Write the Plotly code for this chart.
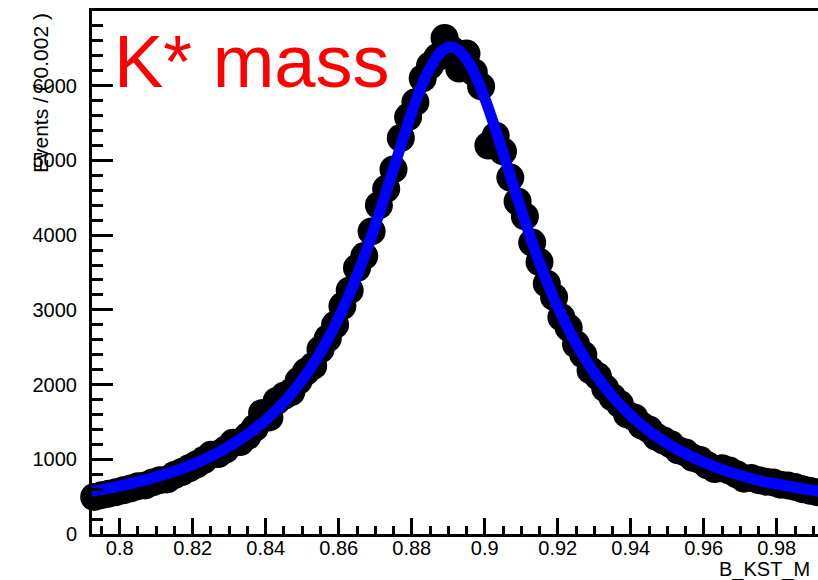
import plotly.graph_objects as go

# Binned K* candidate mass (bin width 0.002), bin centres and counts
bin_centers = [round(0.793 + 0.002 * i, 3) for i in range(100)]
events = [
    495, 520, 540, 560, 585, 610, 640, 650, 690, 720,
    730, 790, 830, 880, 930, 990, 1060, 1070, 1130, 1220,
    1230, 1310, 1420, 1620, 1560, 1780, 1850, 1900, 2050, 2170,
    2250, 2470, 2620, 2800, 3050, 3260, 3560, 3720, 4050, 4400,
    4620, 4880, 5300, 5580, 5780, 6100, 6270, 6380, 6640, 6480,
    6230, 6430, 6180, 5990, 5200, 5330, 5120, 4770, 4450, 4250,
    3900, 3640, 3350, 3170, 2900, 2760, 2540, 2400, 2190, 2110,
    1950, 1830, 1740, 1600, 1560, 1450, 1400, 1300, 1250, 1200,
    1120, 1090, 1020, 990, 920, 870, 880, 850, 800, 740,
    750, 720, 700, 690, 660, 650, 630, 600, 580, 560,
]

# Fitted line shape sampled along the mass axis
fit_x = [0.792, 0.796, 0.800, 0.804, 0.808, 0.812, 0.816, 0.820, 0.824, 0.828,
         0.832, 0.836, 0.840, 0.844, 0.848, 0.852, 0.856, 0.860, 0.864, 0.868,
         0.872, 0.876, 0.880, 0.884, 0.888, 0.890, 0.892, 0.896, 0.900, 0.904,
         0.908, 0.912, 0.916, 0.920, 0.924, 0.928, 0.932, 0.936, 0.940, 0.944,
         0.948, 0.952, 0.956, 0.960, 0.964, 0.968, 0.972, 0.976, 0.980, 0.984,
         0.988, 0.992]
fit_y = [569, 604, 643, 687, 737, 794, 858, 933, 1018, 1117,
         1232, 1367, 1525, 1712, 1936, 2201, 2517, 2893, 3336, 3850,
         4426, 5040, 5640, 6142, 6454, 6514, 6503, 6278, 5832, 5256,
         4639, 4045, 3508, 3040, 2641, 2305, 2023, 1786, 1587, 1419,
         1277, 1155, 1051, 961, 883, 815, 756, 704, 670, 632,
         598, 568]

x_tick_vals = [0.80, 0.82, 0.84, 0.86, 0.88, 0.90, 0.92, 0.94, 0.96, 0.98]
x_tick_text = ["0.8", "0.82", "0.84", "0.86", "0.88", "0.9", "0.92", "0.94", "0.96", "0.98"]
y_tick_vals = [0, 1000, 2000, 3000, 4000, 5000, 6000]

FONT = "Liberation Sans, Arial, Helvetica, sans-serif"
W, H = 818, 580
L, R, T, B = 92, 0, 11, 46
pw, ph = W - L - R, H - T - B


def px_x(p):
    return (p - L) / pw


def px_y(p):
    return (H - B - p) / ph


fig = go.Figure()
fig.add_trace(go.Scatter(
    x=bin_centers, y=events, mode="markers",
    marker=dict(symbol="circle", size=28, color="black", line=dict(width=0)),
    cliponaxis=False, showlegend=False, hoverinfo="x+y",
))
fig.add_trace(go.Scatter(
    x=fit_x, y=fit_y, mode="lines",
    line=dict(color="#0000ff", width=11, shape="spline", smoothing=1.0),
    showlegend=False, hoverinfo="skip",
))

fig.update_layout(
    width=W, height=H,
    margin=dict(l=L, r=R, t=T, b=B, pad=0),
    paper_bgcolor="white", plot_bgcolor="white",
    font=dict(family=FONT, size=20, color="black"),
    xaxis=dict(
        range=[0.7924, 0.9913], showgrid=False, zeroline=False,
        showline=True, linecolor="black", linewidth=3, mirror=True,
        ticks="inside", ticklen=16, tickwidth=3, tickcolor="black",
        tickvals=x_tick_vals, ticktext=x_tick_text,
        tickfont=dict(family=FONT, size=20, color="black"),
        ticklabelstandoff=-6,
        minor=dict(ticks="inside", dtick=0.005, tick0=0.8, ticklen=8,
                   tickwidth=3, tickcolor="black", showgrid=False),
    ),
    yaxis=dict(
        range=[0, 7000], showgrid=False, zeroline=False,
        showline=True, linecolor="black", linewidth=3, mirror=False,
        ticks="inside", ticklen=21, tickwidth=3, tickcolor="black",
        tickvals=y_tick_vals,
        tickfont=dict(family=FONT, size=20, color="black"),
        ticklabelstandoff=8,
        minor=dict(ticks="inside", dtick=200, tick0=0, ticklen=11,
                   tickwidth=3, tickcolor="black", showgrid=False),
    ),
    annotations=[
        dict(text="K* mass", xref="paper", yref="paper",
             x=px_x(112), y=px_y(61), xanchor="left", yanchor="middle",
             showarrow=False, font=dict(family=FONT, size=74, color="#ff0000")),
        dict(text="Events / ( 0.002 )", xref="paper", yref="paper",
             x=px_x(40), y=px_y(11), xanchor="center", yanchor="top",
             textangle=-90, showarrow=False,
             font=dict(family=FONT, size=21, color="black")),
        dict(text="B_KST_M", xref="paper", yref="paper",
             x=px_x(717), y=px_y(569), xanchor="left", yanchor="middle",
             showarrow=False, font=dict(family=FONT, size=20, color="black")),
    ],
)

fig.write_html("out.html")
